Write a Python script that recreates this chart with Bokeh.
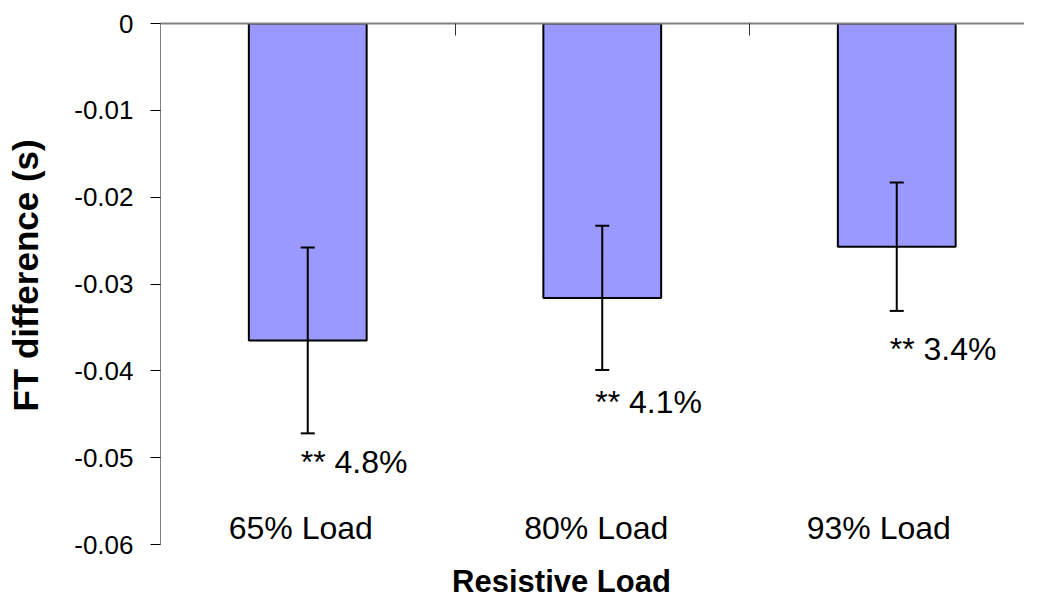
import math
from bokeh.plotting import figure
from bokeh.layouts import row
from bokeh.models import (Range1d, LinearAxis, FixedTicker, CustomJSTickFormatter,
                          ColumnDataSource, Whisker, TeeHead, Label)
from bokeh.core.properties import value
from bokeh.embed import file_html
from bokeh.resources import INLINE

# ---------------- data ----------------
categories = ["65% Load", "80% Load", "93% Load"]
ft_diff = [-0.0365, -0.0316, -0.0257]
ft_err = [0.0107, 0.0083, 0.0074]
notes = ["** 4.8%", "** 4.1%", "** 3.4%"]
y_ticks = [0, -0.01, -0.02, -0.03, -0.04, -0.05, -0.06]
x_title = "Resistive Load"
y_title = "FT difference (s)"

# ---------------- layout ----------------
W, H = 1024, 599
TW = 50                       # width of the strip holding the y title
FRAME_LEFT = 160              # frame left edge, page pixels
FRAME_TOP = 23
AXIS_BOTTOM_PX = 544          # pixel row of the lowest tick (-0.06)
CAT_PX = 294.5                # width of one category in pixels
MW = W - TW
x_end = (W - FRAME_LEFT) / CAT_PX
px_per_unit = (AXIS_BOTTOM_PX - FRAME_TOP) / (y_ticks[0] - y_ticks[-1])
y_start = y_ticks[0] - (H - FRAME_TOP) / px_per_unit
note_y = [-0.0518, -0.0449, -0.0388]
cat_dx = [-7, -6, -18]
FONT = "Liberation Sans"

xs = [i + 0.5 for i in range(len(categories))]
src = ColumnDataSource(dict(
    x=xs, top=ft_diff,
    upper=[m + e for m, e in zip(ft_diff, ft_err)],
    lower=[m - e for m, e in zip(ft_diff, ft_err)],
    cat=categories, note=notes, note_y=note_y, cat_dx=cat_dx,
    cat_y=[y_ticks[-1]] * len(categories),
))

# ---- strip with the rotated y title ----
t = figure(width=TW, height=H, output_backend="svg", toolbar_location=None,
           x_range=Range1d(0, TW), y_range=Range1d(0, H),
           x_axis_location=None, y_axis_location=None,
           min_border_left=0, min_border_right=0, min_border_top=0, min_border_bottom=0)
t.grid.visible = False
t.outline_line_color = None
t.background_fill_color = "white"
t.border_fill_color = "white"
t.add_layout(Label(x=25, y=H - 262, text=y_title, angle=math.pi / 2,
                   text_align="center", text_baseline="middle",
                   text_font=FONT, text_font_style="bold", text_font_size="35px",
                   text_color="black"))

# ---- main chart ----
p = figure(width=MW, height=H, output_backend="svg", toolbar_location=None,
           x_range=Range1d(0, x_end), y_range=Range1d(y_start, y_ticks[0]),
           x_axis_location=None, y_axis_location=None,
           min_border_left=FRAME_LEFT - TW, min_border_right=0,
           min_border_top=FRAME_TOP, min_border_bottom=0)
p.grid.visible = False
p.outline_line_color = None
p.background_fill_color = "white"
p.border_fill_color = "white"

# left value axis
yax = LinearAxis(ticker=FixedTicker(ticks=y_ticks), bounds=(y_ticks[-1], y_ticks[0]),
                 formatter=CustomJSTickFormatter(code="return Math.abs(tick) < 1e-12 ? '0' : tick.toFixed(2);"))
yax.axis_line_color = "#808080"
yax.axis_line_width = 1
yax.major_tick_out = 10
yax.major_tick_in = 0
yax.major_tick_line_color = "black"
yax.minor_tick_line_color = None
yax.major_label_standoff = 17
yax.major_label_text_font = FONT
yax.major_label_text_font_size = "26px"
yax.major_label_text_color = "black"
p.add_layout(yax, "left")

# top axis (category boundaries at y = 0)
tax = LinearAxis(ticker=FixedTicker(ticks=list(range(len(categories) + 1))))
tax.axis_line_color = "#808080"
tax.axis_line_width = 2
tax.major_tick_out = 0
tax.major_tick_in = 12
tax.major_tick_line_color = "#333333"
tax.minor_tick_line_color = None
tax.major_label_text_font_size = "0px"
tax.major_label_text_alpha = 0
p.add_layout(tax, "above")

# bars
p.vbar(x="x", top="top", bottom=0, width=0.4, source=src,
       fill_color="#9999FF", line_color="black", line_width=2)

# error bars
wh = Whisker(base="x", upper="upper", lower="lower", source=src,
             line_color="black", line_width=2, level="annotation",
             upper_head=TeeHead(size=14, line_width=2, line_color="black"),
             lower_head=TeeHead(size=14, line_width=2, line_color="black"))
p.add_layout(wh)

# significance notes
p.text(x="x", y="note_y", text="note", source=src, x_offset=-7, y_offset=-11,
       text_align="left", text_baseline="alphabetic",
       text_font=value(FONT), text_font_size="32px", text_color="black")

# category labels
p.text(x="x", y="cat_y", text="cat", source=src, x_offset="cat_dx", y_offset=-17,
       text_align="center", text_baseline="alphabetic",
       text_font=value(FONT), text_font_size="32px", text_color="black")

# x title
p.add_layout(Label(x=561 - FRAME_LEFT, y=18, x_units="screen", y_units="screen",
                   text=x_title, text_align="center", text_baseline="alphabetic",
                   text_font=FONT, text_font_style="bold",
                   text_font_size="31px", text_color="black"))

layout = row(t, p, spacing=0)
open("out.html", "w").write(file_html(layout, INLINE))
